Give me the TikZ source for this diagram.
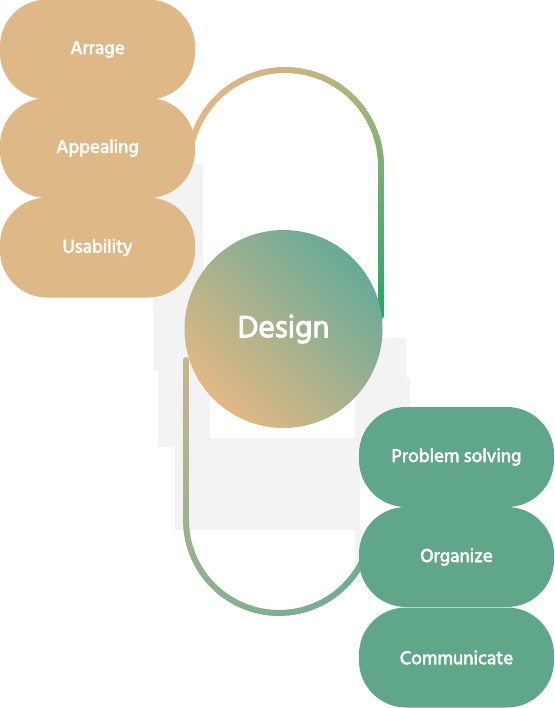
\documentclass[tikz,border=0pt]{standalone}
\usepackage{fontspec}
\setmainfont{Hind Siliguri}
\newfontfamily\labelfont{Hind Siliguri}[FakeBold=3]
\usetikzlibrary{calc}

\definecolor{pilltan}{HTML}{DEB887}
\definecolor{pillgreen}{HTML}{5FA68A}
\definecolor{shadowgray}{HTML}{F3F3F3}
\definecolor{looptan}{HTML}{DFB886}
\definecolor{loopgreen}{HTML}{22A866}
\definecolor{lowtan}{HTML}{C9B688}
\definecolor{lowteal}{HTML}{68AC94}
\definecolor{designtan}{HTML}{E3B884}
\definecolor{designteal}{HTML}{66AA98}

\tikzset{
  pill/.style={rectangle, rounded corners=47pt, minimum width=195pt, minimum height=100pt,
    inner sep=0pt, text=white, font=\labelfont\fontsize{19}{23}\selectfont},
  tanpill/.style={pill, fill=pilltan},
  greenpill/.style={pill, fill=pillgreen},
  loopline/.style={line width=6pt, line cap=round},
}

\begin{document}
\begin{tikzpicture}[x=1pt,y=-1pt]
  \useasboundingbox (0,0) rectangle (554,708);

  % faint backdrop
  \fill[shadowgray] (160,164) rectangle (203,300);
  \fill[shadowgray] (153,297) rectangle (210,370);
  \fill[shadowgray] (158,370) rectangle (210,447);
  \fill[shadowgray] (175,438) rectangle (360,530);
  \fill[shadowgray] (355,338) rectangle (406,378);
  \fill[shadowgray] (355,378) rectangle (410,438);
  \fill[shadowgray] (355,530) rectangle (362,583);

  % centres of the two loops
  \coordinate (topc) at (285,166);
  \coordinate (botc) at (279,520);

  % upper loop: Appealing -> Design
  \foreach \a [evaluate=\a as \p using {55*((\a-195)/165)^2}] in {195,198,...,357}
    \draw[loopline, loopgreen!\p!looptan] ($(topc)+(\a:96)$) -- ($(topc)+(\a+3:96)$);
  \foreach \y [evaluate=\y as \p using {55+45*\y/150}] in {0,10,...,140}
    \draw[loopline, loopgreen!\p!looptan] ($(topc)+(96,\y)$) -- ($(topc)+(96,\y+10)$);

  % lower loop: Design -> Organize
  \foreach \y [evaluate=\y as \p using {45*(\y+160)/160}] in {-160,-150,...,-10}
    \draw[loopline, lowteal!\p!lowtan] ($(botc)+(-93,\y)$) -- ($(botc)+(-93,\y+10)$);
  \foreach \a [evaluate=\a as \p using {45+55*(180-\a)/165}] in {180,177,...,18}
    \draw[loopline, lowteal!\p!lowtan] ($(botc)+(\a:93)$) -- ($(botc)+(\a-3:93)$);

  % left column
  \node[tanpill] (arrage) at (97.5,49.5) {Arrage};
  \node[tanpill] (appealing) at (97.5,148) {Appealing};
  \node[tanpill] (usability) at (97.5,247.5) {Usability};

  % right column
  \node[greenpill] (problem) at (456.5,457) {Problem solving};
  \node[greenpill] (organize) at (456.5,557) {Organize};
  \node[greenpill] (communicate) at (456.5,657.5) {Communicate};

  % hub
  \node[circle, minimum size=198pt, inner sep=0pt, bottom color=designtan,
    top color=designteal, shading angle=-45, text=white,
    font=\labelfont\fontsize{31.5}{36}\selectfont] (design) at (283.5,329) {Design};
\end{tikzpicture}
\end{document}
